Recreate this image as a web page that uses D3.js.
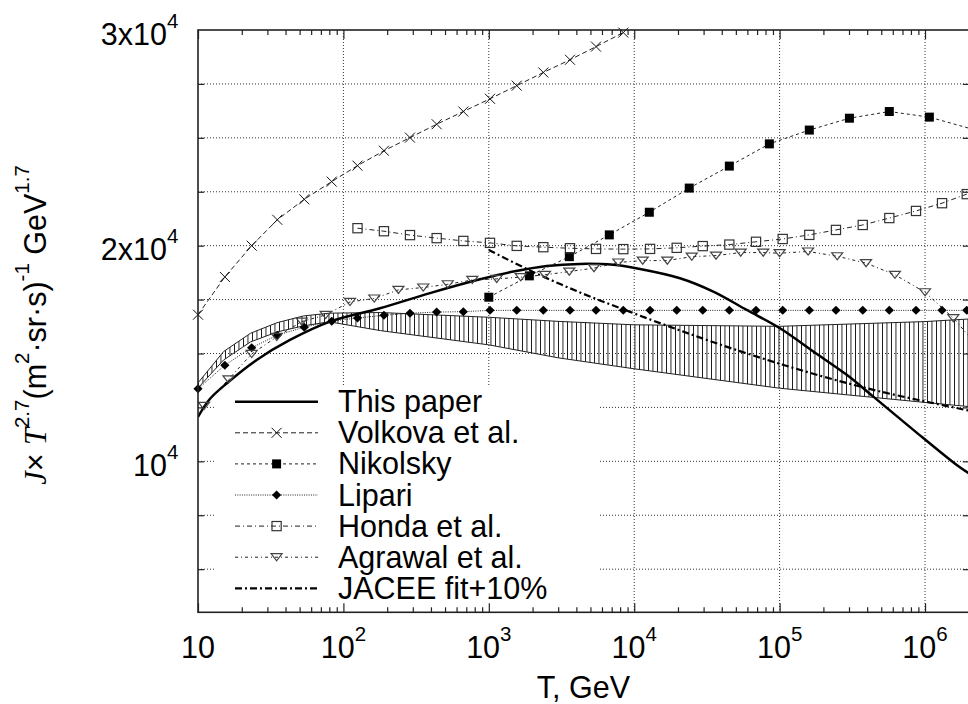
<!DOCTYPE html>
<html><head><meta charset="utf-8">
<script src="https://cdn.jsdelivr.net/npm/d3@7"></script>
<style>body{margin:0;background:#fff}svg{display:block}</style>
</head><body><svg id="c" width="968" height="704"></svg>
<script>
// ---------------- data ----------------
const gridT = [10, 15.3, 23.4, 35.1, 53.8, 83.1, 125, 190, 287, 438, 668, 1019, 1556, 2371, 3617, 5462, 8414,
  12850, 19600, 29600, 45100, 68800, 105000, 160000, 244000, 373000, 568000, 867000, 1309000, 1936000];

const volkovaT = gridT.slice(0, 17);
const volkovaV = [16800, 18550, 20000, 21200, 22150, 22970, 23710, 24400, 25010, 25630, 26220, 26810, 27420, 28030, 28620, 29230, 29880];

const hondaT = gridT.slice(6);
const hondaV = [20810, 20670, 20490, 20350, 20220, 20130, 19990, 19930, 19880, 19850, 19840, 19850, 19900, 19980,
  20050, 20180, 20310, 20500, 20730, 20960, 21280, 21610, 21970, 22390];

const lipariT = gridT;
const lipariV = [13360, 14460, 15270, 15850, 16220, 16500, 16650, 16770, 16870, 16920, 16940,
  17000, 17000, 17000, 17000, 17000, 17000, 17000, 17000, 17000, 17000, 17000, 17000, 17000, 17000, 17000, 17000, 17000, 17000, 17000];

const nikolskyT = [1000, 1900, 3580, 6740, 12700, 23900, 45100, 85000, 160000, 302000, 568000, 1071000, 2020000];
const nikolskyV = [17610, 18600, 19490, 20500, 21550, 22670, 23690, 24720, 25360, 25910, 26220, 25960, 25440];

const agrawalT = [11, 16.2, 23.4, 34.8, 51.7, 75.5, 111, 163, 239, 354, 522, 770, 1133, 1657, 2435, 3577, 5290, 7775,
  11440, 16890, 24860, 36520, 54000, 77140, 100000, 157000, 249000, 393000, 621000, 1000000, 1566000, 2400000];
const agrawalV = [12570, 13800, 14980, 15770, 16480, 16790, 17390, 17550, 17950, 18060, 18210, 18410, 18460, 18540, 18650, 18800, 18960, 19220,
  19310, 19310, 19490, 19540, 19680, 19680, 19650, 19730, 19510, 19190, 18650, 17840, 16640, 15200];

const paperT = [10, 12.1, 15.8, 25.3, 42.9, 80.9, 178.5, 394, 870, 1474, 2501, 4238, 7183, 10960, 20650, 35000, 59400,
  100600, 170500, 289400, 441000, 830800, 1652000, 2000000];
const paperV = [12060, 12900, 13620, 14700, 15630, 16480, 17100, 17800, 18440, 18800, 19060, 19155, 19110, 18920, 18490, 17870, 17020,
  16170, 15090, 14010, 13000, 11460, 9830, 9450];

const jaceeT = [1000, 1920, 4238, 9357, 20650, 45600, 100600, 222200, 490400, 1082000, 1976000];
const jaceeV = [19800, 18850, 17830, 16930, 16070, 15260, 14520, 13840, 13240, 12730, 12360];

const bandT = [10, 15, 23, 35, 53, 80, 180, 1000, 3000, 10000, 100000, 1000000, 2000000];
const bandHigh = [13640, 15090, 15940, 16430, 16740, 16870, 16900, 16680, 16490, 16330, 16260, 16480, 16600];
const bandLow = [13400, 14700, 15540, 16000, 16280, 16470, 16060, 15400, 14800, 14290, 13390, 12730, 12540];

const xTickValues = [10, 100, 1e3, 1e4, 1e5, 1e6];
const xTickLabels = ['10', '10^2', '10^3', '10^4', '10^5', '10^6'];
const yTickValues = [10000, 20000, 30000];
const yTickLabels = ['10^4', '2x10^4', '3x10^4'];
const yGridValues = [5000, 7500, 10000, 12500, 15000, 17500, 20000, 22500, 25000, 27500];

const legendNames = ['This paper', 'Volkova et al.', 'Nikolsky', 'Lipari', 'Honda et al.', 'Agrawal et al.', 'JACEE fit+10%'];

// ---------------- setup ----------------
const svg = d3.select('#c');
const X0 = 198, X1 = 968.8, Y0 = 612.3, Y1 = 30;
const x = d3.scaleLog().domain([10, 2e6]).range([X0, X1]);
const y = d3.scaleLinear().domain([3000, 30000]).range([Y0, Y1]);
const SANS = '"Liberation Sans", Arial, Helvetica, sans-serif';
const SERIF = '"Liberation Serif", "Times New Roman", serif';
const FS = 30.5, SUPFS = 20.5, SUPR = 17;

const defs = svg.append('defs');
defs.append('clipPath').attr('id', 'clip').append('rect')
  .attr('x', X0).attr('y', Y1).attr('width', X1 - X0).attr('height', Y0 - Y1);
const pat = defs.append('pattern').attr('id', 'hatch').attr('patternUnits', 'userSpaceOnUse')
  .attr('width', 4.5).attr('height', 20);
pat.append('line').attr('x1', 0.5).attr('x2', 0.5).attr('y1', 0).attr('y2', 20)
  .attr('stroke', '#111').attr('stroke-width', 1).attr('shape-rendering', 'crispEdges');

// grid
const grid = svg.append('g').attr('stroke', '#333').attr('stroke-width', 1).attr('stroke-dasharray', '1,2');
grid.selectAll('.gy').data(yGridValues).join('line')
  .attr('x1', X0).attr('x2', X1).attr('y1', d => y(d)).attr('y2', d => y(d));
grid.selectAll('.gx').data(xTickValues.slice(1)).join('line')
  .attr('x1', d => x(d)).attr('x2', d => x(d)).attr('y1', Y1).attr('y2', Y0);

// legend opaque box
svg.append('rect').attr('x', 215).attr('y', 386).attr('width', 385).attr('height', 225).attr('fill', '#fff');

const plot = svg.append('g').attr('clip-path', 'url(#clip)');

// band
const bandData = bandT.map((t, i) => ({t, lo: bandLow[i], hi: bandHigh[i]}));
plot.append('path').datum(bandData)
  .attr('d', d3.area().x(d => x(d.t)).y0(d => y(d.lo)).y1(d => y(d.hi)))
  .attr('fill', 'url(#hatch)');
plot.append('path').datum(bandData).attr('d', d3.line().x(d => x(d.t)).y(d => y(d.hi)))
  .attr('fill', 'none').attr('stroke', '#222').attr('stroke-width', 1);
plot.append('path').datum(bandData).attr('d', d3.line().x(d => x(d.t)).y(d => y(d.lo)))
  .attr('fill', 'none').attr('stroke', '#222').attr('stroke-width', 1);

// markers
function marker(g, type, cx, cy) {
  if (type === 'cross') {
    g.append('path').attr('d', `M${cx-5},${cy-5}L${cx+5},${cy+5}M${cx-5},${cy+5}L${cx+5},${cy-5}`)
      .attr('stroke', '#111').attr('stroke-width', 1).attr('fill', 'none');
  } else if (type === 'fsquare') {
    g.append('rect').attr('x', cx - 4.5).attr('y', cy - 4.5).attr('width', 9).attr('height', 9).attr('fill', '#000');
  } else if (type === 'diamond') {
    g.append('path').attr('d', `M${cx},${cy-4.5}L${cx+4.6},${cy}L${cx},${cy+4.5}L${cx-4.6},${cy}Z`).attr('fill', '#000');
  } else if (type === 'osquare') {
    g.append('rect').attr('x', cx - 4.6).attr('y', cy - 4.6).attr('width', 9.2).attr('height', 9.2)
      .attr('fill', 'none').attr('stroke', '#333').attr('stroke-width', 1.2);
  } else if (type === 'dtri') {
    g.append('path').attr('d', `M${cx-5.5},${cy-3.5}L${cx+5.5},${cy-3.5}L${cx},${cy+3.6}Z`)
      .attr('fill', 'none').attr('stroke', '#444').attr('stroke-width', 1.2);
  }
}

const smooth = d3.curveCatmullRom.alpha(0.5);
const series = [
  {T: paperT, V: paperV, dash: null, w: 2.5, m: null, curve: smooth, color: '#000'},
  {T: volkovaT, V: volkovaV, dash: '5,3', w: 1, m: 'cross', curve: d3.curveLinear, color: '#222'},
  {T: nikolskyT, V: nikolskyV, dash: '3,3', w: 1, m: 'fsquare', curve: d3.curveLinear, color: '#222'},
  {T: lipariT, V: lipariV, dash: '1,1.3', w: 1, m: 'diamond', curve: d3.curveLinear, color: '#222'},
  {T: hondaT, V: hondaV, dash: '5,3,1,3', w: 1, m: 'osquare', curve: d3.curveLinear, color: '#222'},
  {T: agrawalT, V: agrawalV, dash: '3,3,1,3', w: 1, m: 'dtri', curve: d3.curveLinear, color: '#222'},
  {T: jaceeT, V: jaceeV, dash: '7,3,2,3', w: 2.2, m: null, curve: smooth, color: '#000'}
];

series.forEach(s => {
  const pts = s.T.map((t, i) => [t, s.V[i]]);
  const p = plot.append('path').datum(pts)
    .attr('d', d3.line().x(d => x(d[0])).y(d => y(d[1])).curve(s.curve))
    .attr('fill', 'none').attr('stroke', s.color).attr('stroke-width', s.w);
  if (s.dash) p.attr('stroke-dasharray', s.dash);
});
const mk = svg.append('g');
series.forEach(s => {
  if (!s.m) return;
  s.T.forEach((t, i) => { if (t <= 2e6 && t >= 10) marker(mk, s.m, x(t), y(s.V[i])); });
});

// axes ticks
const ax = svg.append('g').attr('stroke', '#222');
const minorX = x.ticks().filter(t => xTickValues.indexOf(t) < 0);
ax.append('g').attr('transform', `translate(0,${Y0})`)
  .call(d3.axisBottom(x).tickValues(minorX).tickSize(-5).tickFormat(''));
ax.append('g').attr('transform', `translate(0,${Y0})`)
  .call(d3.axisBottom(x).tickValues(xTickValues).tickSize(-9).tickFormat(''));
ax.append('g').attr('transform', `translate(0,${Y1})`)
  .call(d3.axisTop(x).tickValues(minorX).tickSize(-5).tickFormat(''));
ax.append('g').attr('transform', `translate(0,${Y1})`)
  .call(d3.axisTop(x).tickValues(xTickValues).tickSize(-9).tickFormat(''));
ax.append('g').attr('transform', `translate(${X0},0)`)
  .call(d3.axisLeft(y).tickValues(yGridValues).tickSize(-6).tickFormat(''));
ax.append('g').attr('transform', `translate(${X1},0)`)
  .call(d3.axisRight(y).tickValues(yGridValues).tickSize(-6).tickFormat(''));
ax.selectAll('.domain').remove();
ax.selectAll('line').attr('stroke', '#222').attr('stroke-width', 1.2);
svg.append('rect').attr('x', X0).attr('y', Y1).attr('width', X1 - X0).attr('height', Y0 - Y1)
  .attr('fill', 'none').attr('stroke', '#222').attr('stroke-width', 1.6);

// text helper
function label(g, px, py, anchor, parts, rot) {
  const gg = g.append('g').attr('transform', `translate(${px},${py})${rot ? ' rotate(-90)' : ''}`);
  const t = gg.append('text').attr('text-anchor', anchor).attr('font-family', SANS)
    .attr('font-size', FS).attr('fill', '#000');
  let shift = 0;
  parts.forEach(p => {
    const ts = t.append('tspan').text(p.t);
    const target = p.sup ? -SUPR : 0;
    ts.attr('dy', target - shift); shift = target;
    if (p.sup) ts.attr('font-size', SUPFS);
    if (p.it) ts.attr('font-family', SERIF).attr('font-style', 'italic');
  });
}
function parseLbl(s) {
  const k = s.split('^');
  const parts = [{t: k[0]}];
  if (k[1]) parts.push({t: k[1], sup: true});
  return parts;
}

const txt = svg.append('g');
xTickValues.forEach((v, i) => label(txt, x(v), 658, 'middle', parseLbl(xTickLabels[i])));
yTickValues.forEach((v, i) => label(txt, 178.3, y(v) + 14.5, 'end', parseLbl(yTickLabels[i])));
label(txt, (X0 + X1) / 2, 698, 'middle', [{t: 'T, GeV'}]);
label(txt, 45.5, 325, 'middle', [
  {t: 'J', it: true}, {t: '× '}, {t: 'T', it: true}, {t: '2.7', sup: true}, {t: '(m'}, {t: '2', sup: true},
  {t: '·sr·s)'}, {t: '-1', sup: true}, {t: ' GeV'}, {t: '1.7', sup: true}
], true);

// legend
const lg = svg.append('g');
legendNames.forEach((name, i) => {
  const s = series[i];
  const cy = 401.7 + i * 31.1;
  const l = lg.append('line').attr('x1', 235).attr('x2', 318).attr('y1', cy).attr('y2', cy)
    .attr('stroke', s.color).attr('stroke-width', s.w);
  if (s.dash) l.attr('stroke-dasharray', s.dash);
  if (s.m) marker(lg, s.m, 276.6, cy);
  label(lg, 338, cy + 10.5, 'start', [{t: name}]);
});
</script>
</body></html>
